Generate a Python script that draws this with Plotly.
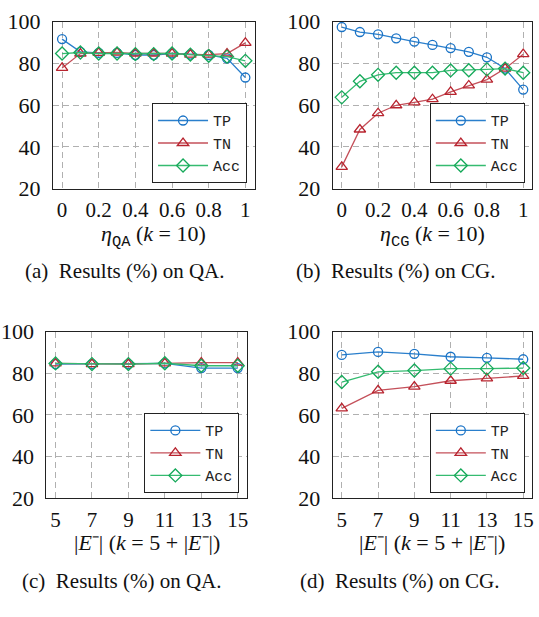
import plotly.graph_objects as go

W, H = 539, 617

# ---------------- data ----------------
eta = [0, 0.1, 0.2, 0.3, 0.4, 0.5, 0.6, 0.7, 0.8, 0.9, 1.0]
eta_ticks = [0, 0.2, 0.4, 0.6, 0.8, 1]
eta_ticktext = ["0", "0.2", "0.4", "0.6", "0.8", "1"]

qa_tp = [91.6, 85.5, 85.0, 85.0, 84.0, 84.0, 84.7, 84.2, 84.0, 82.4, 73.2]
qa_tn = [77.8, 84.7, 85.0, 85.2, 84.7, 84.7, 84.7, 84.2, 84.2, 84.7, 89.8]
qa_acc = [84.7, 85.2, 84.7, 84.7, 84.4, 84.4, 84.7, 84.2, 83.6, 83.2, 81.2]

cg_tp = [97.4, 95.0, 93.9, 92.0, 90.4, 88.8, 87.3, 85.5, 82.9, 77.5, 67.4]
cg_tn = [30.4, 48.3, 56.1, 59.9, 61.3, 62.8, 66.3, 69.4, 72.2, 77.5, 84.4]
cg_acc = [63.7, 71.4, 74.5, 75.5, 75.5, 75.5, 76.6, 76.7, 77.1, 77.5, 75.5]

neg = [5, 7, 9, 11, 13, 15]
qa2_tp = [84.4, 84.4, 84.4, 84.7, 82.5, 82.5]
qa2_tn = [84.7, 84.4, 84.4, 84.7, 85.1, 85.1]
qa2_acc = [84.7, 84.4, 84.4, 84.8, 83.6, 83.6]

cg2_tp = [88.8, 90.2, 89.3, 87.9, 87.4, 86.7]
cg2_tn = [63.2, 71.8, 73.6, 76.4, 77.5, 78.7]
cg2_acc = [75.8, 80.7, 81.3, 82.2, 82.2, 82.5]

y_ticks = [20, 40, 60, 80, 100]
series_names = ["TP", "TN", "Acc"]

captions = ["(a)\u2002Results (%) on QA.", "(b)\u2002Results (%) on CG.",
            "(c)\u2002Results (%) on QA.", "(d)\u2002Results (%) on CG."]

serif = "Liberation Serif, Times New Roman, serif"
mono = "Liberation Mono, Courier New, monospace"
eta_qa = "<i>η</i><sub><span style='font-family:Liberation Mono,monospace'>QA</span></sub> (<i>k</i> = 10)"
eta_cg = "<i>η</i><sub><span style='font-family:Liberation Mono,monospace'>CG</span></sub> (<i>k</i> = 10)"
neg_title = "|<i>E</i>\u207b| (<i>k</i> = 5 + |<i>E</i>\u207b|)"

# ---------------- style ----------------
marker_cols = ["#1a73c6", "#b8242f", "#16a95a"]
line_cols = ["#2a7fcc", "#c4505a", "#35bb70"]
symbols = ["circle-open", "triangle-up-open", "diamond-open"]
msizes = [9, 10, 10]

# pixel boxes: (x0, x1, y0_top, y1_bottom)
boxes = [(53, 255, 10, 184), (333.3, 533.3, 10, 184),
         (46.5, 247.3, 333, 507), (333.3, 533.3, 333, 507)]

panels = [
    (eta, [qa_tp, qa_tn, qa_acc], eta_ticks, eta_ticktext, [-0.05, 1.05], eta_qa),
    (eta, [cg_tp, cg_tn, cg_acc], eta_ticks, eta_ticktext, [-0.05, 1.05], eta_cg),
    (neg, [qa2_tp, qa2_tn, qa2_acc], neg, [str(v) for v in neg], [4.5, 15.5], neg_title),
    (neg, [cg2_tp, cg2_tn, cg2_acc], neg, [str(v) for v in neg], [4.5, 15.5], neg_title),
]

fig = go.Figure()
layout = dict(width=W, height=H, margin=dict(l=0, r=0, t=0, b=0),
              paper_bgcolor="white", plot_bgcolor="white", annotations=[])

for i, (xs, ys_list, tv, tt, xr, title) in enumerate(panels):
    n = "" if i == 0 else str(i + 1)
    leg = "legend" if i == 0 else "legend%d" % (i + 1)
    x0, x1, yt, yb = boxes[i]
    for j, ys in enumerate(ys_list):
        fig.add_trace(go.Scatter(
            x=xs, y=ys, mode="lines+markers", name=series_names[j],
            xaxis="x" + n, yaxis="y" + n, legend=leg,
            line=dict(color=line_cols[j], width=1.3),
            marker=dict(symbol=symbols[j], size=msizes[j], color=marker_cols[j],
                        line=dict(color=marker_cols[j], width=1.3)),
        ))
    axcommon = dict(showgrid=True, gridcolor="#b0b0b0", griddash="6px,4px", gridwidth=1,
                    showline=True, linecolor="#222", linewidth=1, mirror=True,
                    zeroline=False)
    layout["xaxis" + n] = dict(axcommon, domain=[x0 / W, x1 / W], range=xr,
                               tickvals=tv, ticktext=tt, anchor="y" + n,
                               ticks="outside", ticklen=2, tickcolor="rgba(0,0,0,0)",
                               tickfont=dict(family=serif, size=21, color="#111"))
    layout["yaxis" + n] = dict(axcommon, domain=[1 - yb / H, 1 - yt / H], range=[20, 100],
                               tickvals=y_ticks, anchor="x" + n,
                               ticks="outside", ticklen=7, tickcolor="rgba(0,0,0,0)",
                               tickfont=dict(family=serif, size=22, color="#111"))
    layout[leg] = dict(x=(x1 - 7.5) / W, y=1 - (yb - 5.5) / H, xanchor="right", yanchor="bottom",
                       bgcolor="white", bordercolor="#222", borderwidth=1,
                       font=dict(family=mono, size=15, color="#222"),
                       itemwidth=50, tracegroupgap=0)
    cx = (x0 + x1) / 2
    ty = 233 if i < 2 else 553
    layout["annotations"].append(dict(
        text=title, x=cx / W, y=1 - ty / H, xref="paper", yref="paper",
        xanchor="center", yanchor="middle", showarrow=False,
        font=dict(family=serif, size=22, color="#111")))

cap_pos = [(124.5, 270), (396, 270), (121.5, 593), (400, 593)]
for (cx, cy), cap in zip(cap_pos, captions):
    layout["annotations"].append(dict(
        text=cap, x=cx / W, y=1 - cy / H, xref="paper", yref="paper",
        xanchor="center", yanchor="middle", showarrow=False,
        font=dict(family=serif, size=21, color="#111")))

fig.update_layout(**layout)
fig.update_layout(showlegend=True)
fig.write_html("out.html", config={"displayModeBar": False},
               post_script="document.body.style.margin='0';document.body.style.overflow='hidden';")
